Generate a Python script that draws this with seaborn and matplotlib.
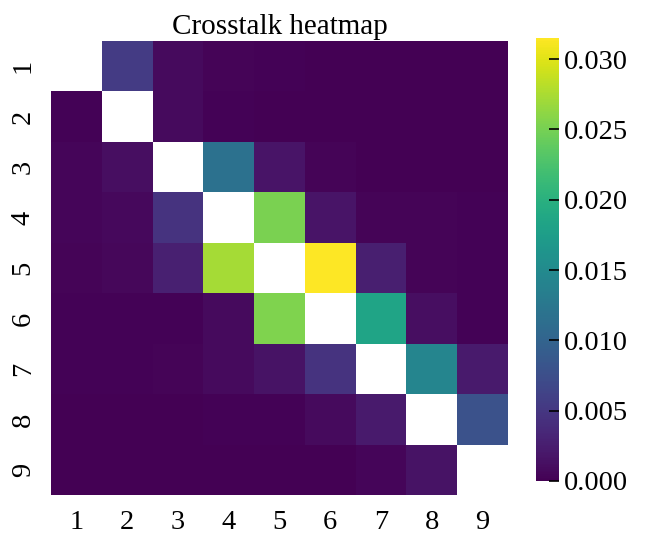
import numpy as np
import matplotlib
matplotlib.use('Agg')
import matplotlib.pyplot as plt
import seaborn as sns

labels = ['1', '2', '3', '4', '5', '6', '7', '8', '9']
nan = np.nan
row1 = [nan, 0.0055, 0.0008, 0.0003, 0.0002, 0.0001, 0.0001, 0.0001, 0.0001]
row2 = [0.0002, nan, 0.0008, 0.0002, 0.0001, 0.0001, 0.0001, 0.0001, 0.0001]
row3 = [0.0004, 0.0012, nan, 0.0117, 0.0016, 0.0003, 0.0001, 0.0001, 0.0001]
row4 = [0.0004, 0.0007, 0.0046, nan, 0.0252, 0.0016, 0.0003, 0.0003, 0.0002]
row5 = [0.0003, 0.0005, 0.0028, 0.0272, nan, 0.0315, 0.0026, 0.0003, 0.0002]
row6 = [0.0002, 0.0002, 0.0002, 0.0008, 0.0254, nan, 0.0184, 0.0012, 0.0002]
row7 = [0.0002, 0.0002, 0.0003, 0.0008, 0.0015, 0.0046, nan, 0.0143, 0.0021]
row8 = [0.0001, 0.0001, 0.0001, 0.0002, 0.0002, 0.0008, 0.0022, nan, 0.0079]
row9 = [0.0001, 0.0001, 0.0001, 0.0001, 0.0001, 0.0001, 0.0004, 0.0015, nan]
crosstalk = np.array([row1, row2, row3, row4, row5, row6, row7, row8, row9])

plt.rcParams['font.family'] = ['Liberation Serif', 'DejaVu Serif']

fig = plt.figure(figsize=(6.58, 5.37), dpi=100)
ax = fig.add_axes([0.0775, 0.078, 0.6945, 0.8456])
cax = fig.add_axes([0.8146, 0.1043, 0.0345, 0.825])

sns.heatmap(crosstalk, cmap='viridis', vmin=0, ax=ax, cbar_ax=cax,
            xticklabels=labels, yticklabels=labels)
ax.set_title('Crosstalk heatmap', fontsize=21, pad=5)
ax.tick_params(length=0, labelsize=20.5, pad=11)
ax.set_yticklabels(labels, rotation=90, va='center')
cax.tick_params(labelsize=20.5, direction='in', length=7, width=1.2)

fig.savefig('out.png', dpi=100)
